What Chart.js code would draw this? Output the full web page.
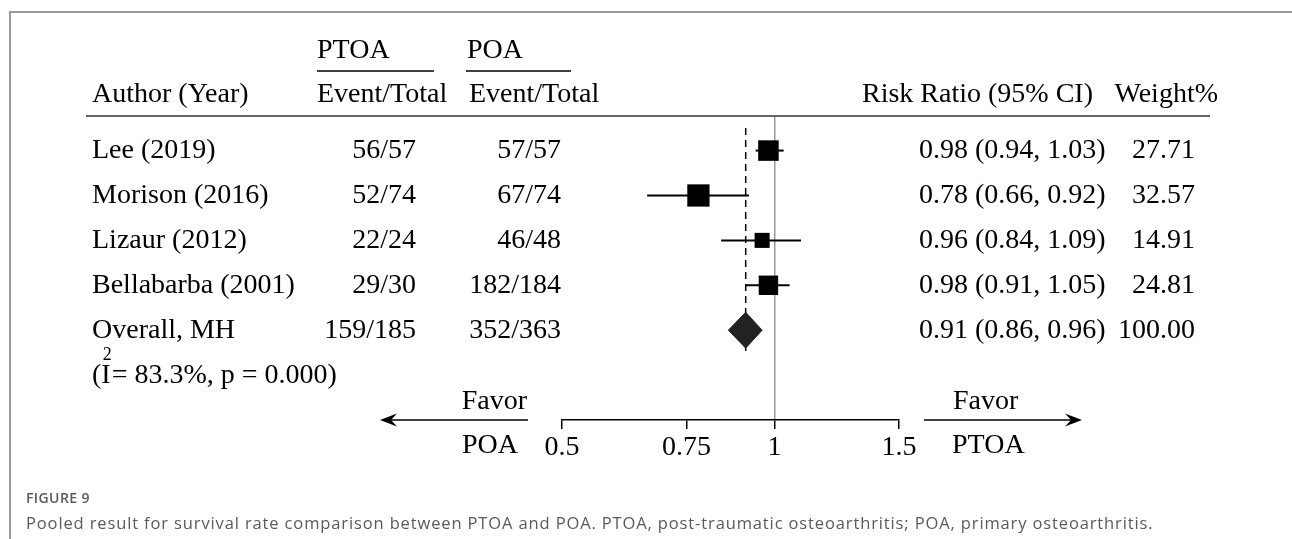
<!DOCTYPE html>
<html>
<head>
<meta charset="utf-8">
<script src="https://cdn.jsdelivr.net/npm/chart.js@4.4.1/dist/chart.umd.min.js"></script>
<style>
  html, body { margin: 0; padding: 0; background: #fff; }
  #wrap { position: relative; width: 1292px; height: 539px; overflow: hidden; }
  #frame { position: absolute; left: 9px; top: 11px; right: -4px; bottom: -4px; border-top: 2px solid #9a9a9a; border-left: 2px solid #9a9a9a; }
  #myChart { position: absolute; left: 0; top: 0; }
  .cap { position: absolute; left: 26px; font-family: "Open Sans", sans-serif; color: #5a5a5a; white-space: nowrap; }
  #figNo { top: 488px; font-size: 14px; line-height: 20px; font-weight: 600; letter-spacing: 0.4px; }
  #figText { top: 512px; font-size: 16.5px; line-height: 22px; letter-spacing: 0.87px; }
</style>
</head>
<body>
<div id="wrap">
  <div id="frame"></div>
  <canvas id="myChart" width="1292" height="539"></canvas>
  <div class="cap" id="figNo">FIGURE 9</div>
  <div class="cap" id="figText">Pooled result for survival rate comparison between PTOA and POA. PTOA, post-traumatic osteoarthritis; POA, primary osteoarthritis.</div>
</div>
<script>
// study rows
const studies = ["Lee (2019)", "Morison (2016)", "Lizaur (2012)", "Bellabarba (2001)"];
const ptoaCounts = ["56/57", "52/74", "22/24", "29/30"];
const poaCounts = ["57/57", "67/74", "46/48", "182/184"];
const riskRatio = [0.98, 0.78, 0.96, 0.98];
const lowerCI = [0.94, 0.66, 0.84, 0.91];
const upperCI = [1.03, 0.92, 1.09, 1.05];
const weights = [27.71, 32.57, 14.91, 24.81];

// pooled estimate
const overallLabel = "Overall, MH";
const overallPtoa = "159/185";
const overallPoa = "352/363";
const overallRR = 0.91;
const overallLower = 0.86;
const overallUpper = 0.96;
const overallWeight = 100;
const i2Value = "83.3%";
const pValue = "0.000";

// axis
const xTicks = [0.5, 0.75, 1, 1.5];
const nullValue = 1;

const serif = "'Liberation Serif', 'Times New Roman', serif";
const overallRow = studies.length;

function ciText(r, lo, hi) {
  return r.toFixed(2) + " (" + lo.toFixed(2) + ", " + hi.toFixed(2) + ")";
}

// table text, header rules and favour arrows
const tablePlugin = {
  id: "forestTable",
  afterDraw(chart) {
    const ctx = chart.ctx;
    const ys = chart.scales.y;
    const area = chart.chartArea;
    ctx.save();
    ctx.fillStyle = "#000";
    ctx.strokeStyle = "#000";
    ctx.textBaseline = "middle";
    ctx.font = "28px " + serif;

    // header
    ctx.textAlign = "left";
    ctx.fillText("PTOA", 317, 51);
    ctx.fillText("POA", 467, 51);
    ctx.fillText("Author (Year)", 92, 95);
    ctx.fillText("Event/Total", 317, 95);
    ctx.fillText("Event/Total", 469, 95);
    ctx.fillText("Risk Ratio (95% CI)", 862, 95);
    ctx.textAlign = "right";
    ctx.fillText("Weight%", 1218, 95);

    ctx.lineWidth = 1.5;
    ctx.beginPath();
    ctx.moveTo(317, 71); ctx.lineTo(434, 71);
    ctx.moveTo(466, 71); ctx.lineTo(571, 71);
    ctx.stroke();
    ctx.strokeStyle = "#333";
    ctx.beginPath();
    ctx.moveTo(86, area.top); ctx.lineTo(1210, area.top);
    ctx.stroke();

    // rows
    for (let i = 0; i < studies.length; i++) {
      const yy = ys.getPixelForValue(i);
      ctx.textAlign = "left";
      ctx.fillText(studies[i], 92, yy);
      ctx.fillText(ciText(riskRatio[i], lowerCI[i], upperCI[i]), 919, yy);
      ctx.textAlign = "right";
      ctx.fillText(ptoaCounts[i], 416, yy);
      ctx.fillText(poaCounts[i], 561, yy);
      ctx.fillText(weights[i].toFixed(2), 1195, yy);
    }
    let yy = ys.getPixelForValue(overallRow);
    ctx.textAlign = "left";
    ctx.fillText(overallLabel, 92, yy);
    ctx.fillText(ciText(overallRR, overallLower, overallUpper), 919, yy);
    ctx.textAlign = "right";
    ctx.fillText(overallPtoa, 416, yy);
    ctx.fillText(overallPoa, 561, yy);
    ctx.fillText(overallWeight.toFixed(2), 1195, yy);

    // heterogeneity line
    yy = ys.getPixelForValue(overallRow + 1) + 1;
    ctx.textAlign = "left";
    const w1 = ctx.measureText("(I").width;
    ctx.fillText("(I", 92, yy);
    ctx.fillText("= " + i2Value + ", p = " + pValue + ")", 92 + w1 + 1, yy);
    ctx.font = "18px " + serif;
    ctx.fillText("2", 92 + w1 - 8, yy - 21);

    // favour labels and arrows
    const axisY = area.bottom;
    ctx.font = "28px " + serif;
    ctx.textAlign = "right";
    ctx.fillText("Favor", area.left - 35, axisY - 18);
    ctx.textAlign = "left";
    ctx.fillText("POA", area.left - 100, axisY + 26);
    ctx.fillText("Favor", area.right + 54, axisY - 18);
    ctx.fillText("PTOA", area.right + 53, axisY + 26);

    drawArrow(ctx, area.left - 34, area.left - 182, axisY);
    drawArrow(ctx, area.right + 25, area.right + 183, axisY);
    ctx.restore();
  }
};

function drawArrow(ctx, x0, tip, y) {
  const dir = tip > x0 ? -1 : 1;
  ctx.strokeStyle = "#000";
  ctx.lineWidth = 1.5;
  ctx.beginPath();
  ctx.moveTo(x0, y);
  ctx.lineTo(tip + dir * 10, y);
  ctx.stroke();
  ctx.beginPath();
  ctx.moveTo(tip, y);
  ctx.lineTo(tip + dir * 17, y - 6.5);
  ctx.lineTo(tip + dir * 11, y);
  ctx.lineTo(tip + dir * 17, y + 6.5);
  ctx.closePath();
  ctx.fill();
}

const whiskers = studies.map((s, i) => ({
  label: s + " CI",
  data: [{ x: lowerCI[i], y: i }, { x: upperCI[i], y: i }],
  showLine: true,
  borderColor: "#000",
  borderWidth: 2,
  pointRadius: 0,
  order: 2,
}));

const data = {
  datasets: [
    {
      label: "Risk ratio",
      data: riskRatio.map((r, i) => ({ x: r, y: i })),
      pointStyle: "rect",
      pointRadius: weights.map((w) => (3.9 * Math.sqrt(w)) / Math.SQRT2),
      backgroundColor: "#000",
      borderWidth: 0,
      order: 0,
    },
    {
      label: "Overall",
      data: [
        { x: overallLower, y: overallRow },
        { x: overallRR, y: overallRow - 0.4 },
        { x: overallUpper, y: overallRow },
        { x: overallRR, y: overallRow + 0.4 },
        { x: overallLower, y: overallRow },
      ],
      showLine: true,
      fill: "shape",
      backgroundColor: "#222",
      borderColor: "#222",
      borderWidth: 1,
      pointRadius: 0,
      order: 0,
    },
    ...whiskers,
    {
      label: "Pooled line",
      data: [{ x: overallRR, y: -0.5 }, { x: overallRR, y: overallRow + 0.5 }],
      showLine: true,
      borderColor: "#000",
      borderWidth: 1.5,
      borderDash: [7, 5],
      pointRadius: 0,
      order: 3,
    },
  ],
};

const config = {
  type: "scatter",
  data: data,
  plugins: [tablePlugin],
  options: {
    responsive: false,
    animation: false,
    devicePixelRatio: 1,
    events: [],
    layout: { padding: { left: 562, right: 393, top: 116, bottom: 59 } },
    plugins: { legend: { display: false }, tooltip: { enabled: false } },
    scales: {
      x: {
        type: "logarithmic",
        min: 0.5,
        max: 1.5,
        position: "bottom",
        afterBuildTicks: (axis) => {
          axis.ticks = xTicks.map((v) => ({ value: v }));
        },
        afterFit: (axis) => {
          axis.height = 60;
        },
        border: { display: true, color: "#000", width: 1.5 },
        grid: {
          drawOnChartArea: true,
          color: (c) => (c.tick && c.tick.value === nullValue ? "#9a9a9a" : "rgba(0,0,0,0)"),
          lineWidth: 1.5,
          tickColor: "#000",
          tickLength: 9,
          tickWidth: 1.5,
        },
        ticks: {
          color: "#000",
          font: { family: serif, size: 28 },
          padding: 2,
          autoSkip: false,
          maxRotation: 0,
          callback: (v) => String(v),
        },
      },
      y: {
        type: "linear",
        reverse: true,
        min: -0.77,
        max: 6.0,
        display: false,
      },
    },
  },
};

const myChart = new Chart(document.getElementById("myChart"), config);
</script>
</body>
</html>
